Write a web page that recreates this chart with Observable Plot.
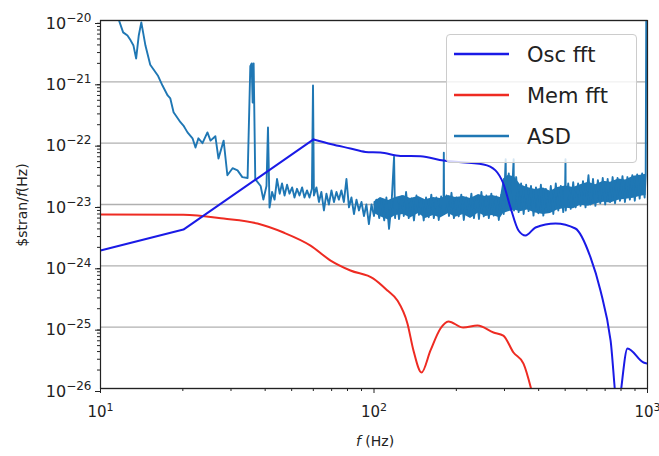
<!DOCTYPE html>
<html><head><meta charset="utf-8">
<script src="https://cdn.jsdelivr.net/npm/d3@7"></script>
<script src="https://cdn.jsdelivr.net/npm/@observablehq/plot@0.6"></script>
<style>
body{margin:0;background:#fff;}
#wrap{position:relative;width:659px;height:456px;font-family:"DejaVu Sans",sans-serif;}
#legend{position:absolute;left:446px;top:34px;width:191px;height:129px;box-sizing:border-box;background:rgba(255,255,255,0.82);border:1px solid #cccccc;border-radius:4px;}
.item{position:absolute;left:0;width:100%;height:30px;}
.item svg{position:absolute;left:6px;top:0;}
.item span{position:absolute;left:80px;top:3px;font-size:21px;line-height:26px;color:#222;}
</style></head>
<body><div id="wrap"><div id="chart"></div><div id="legend"></div></div>
<script>
// ---- axis ticks (label = "10" + exponent) ----
const decadesY = [1e-26, 1e-25, 1e-24, 1e-23, 1e-22, 1e-21, 1e-20];
const yTickExp = ["−26", "−25", "−24", "−23", "−22", "−21", "−20"];
const decadesX = [10, 100, 1000];
const xTickExp = ["1", "2", "3"];

// ---- series ----
const seriesNames = ["Osc fft", "Mem fft", "ASD"];
const seriesColors = ["#1a1ae6", "#ee2b22", "#1f77b4"];

const oscF = [10, 20.1, 60.1, 70, 82, 93.1, 105.6, 125, 147.9, 179.5, 251.4, 278, 297, 315.6, 337.6, 358, 389.5, 461, 545, 619, 673, 733, 777, 845, 967, 1000];
const oscV = [1.78e-24, 3.9e-24, 1.15e-22, 9.6e-23, 8.2e-23, 7.2e-23, 7.05e-23, 6.2e-23, 6.1e-23, 5.2e-23, 4.5e-23, 3.6e-23, 2.2e-23, 8.93e-24, 3.77e-24, 3.12e-24, 4.21e-24, 4.9e-24, 4.06e-24, 1.37e-24, 3.96e-25, 6.06e-26, 5e-27, 4.49e-26, 2.65e-26, 2.55e-26];

const memF = [10, 20.1, 28.2, 37.5, 46.7, 58.6, 69.4, 82, 99.5, 112, 121.8, 132.5, 139.4, 149.2, 160.9, 175, 187, 212, 239, 273.5, 297, 323.6, 352, 380];
const memV = [6.9e-24, 6.8e-24, 5.9e-24, 4.9e-24, 3.49e-24, 2.14e-24, 1.22e-24, 8.4e-25, 6.2e-25, 3.96e-25, 2.72e-25, 1.15e-25, 4.17e-26, 1.82e-26, 4.17e-26, 9.5e-26, 1.24e-25, 9.86e-26, 1.06e-25, 8.2e-26, 7.3e-26, 3.86e-26, 2.55e-26, 8e-27];

const asdF = [11.35, 12.1, 12.55, 12.9, 13.2, 13.5, 13.8, 14.1, 14.6, 15.2, 16.2, 16.85, 17.6, 18.0, 18.5, 19.6, 20.1, 20.8, 21.7, 22.25, 22.8, 23.6, 24.6, 25.25, 26.3, 27.0, 28.2, 29.1, 30.4, 31.7, 33.0, 34.5, 35.3, 35.7, 36.0, 36.3, 36.8, 38.5, 39.4, 40.45, 40.96,
  41.5, 42.4, 43.3, 44.2, 45.2, 46.1, 47.1, 48.1, 49.1, 50.2, 51.2, 52.3, 53.4, 54.6, 55.7, 56.9, 58.1, 59.3, 59.84, 60.3, 61.6, 62.9, 64.2, 65.6, 67.0, 68.4, 69.9, 71.4, 72.9, 74.4, 76.0, 77.6, 79.3, 81.0, 82.7, 84.5, 86.3, 88.1, 90.0, 91.9, 93.8, 95.8, 97.9, 100,
  102, 104.5, 106.5, 109, 111, 113.5, 116, 118.4, 119.4, 121, 123.5, 126, 128.5, 131, 134, 137, 140, 143, 146, 149, 152, 155, 158.5, 162, 165.5, 169, 172.5, 176, 179.5, 180, 180.5, 184, 188, 192, 196, 200, 204, 208.5, 213, 217.5, 222, 227, 232, 237, 242, 247, 252, 257.5, 263, 268.5, 274, 280, 286, 292, 298,
  303, 304.5, 311, 317.5, 324, 325, 331, 338, 345, 352.5, 360, 367.5, 375, 383, 391, 399, 407.5, 416, 425, 434, 443, 452.5, 462, 472, 482, 492, 500, 501.4, 502.5, 513, 524, 535, 546, 557.5, 569, 581, 593.5, 606, 608.4, 619, 632, 645, 658.5, 672, 686, 700.5, 715, 730, 745.5, 761, 777, 793.5, 810, 827, 844.5, 862, 880, 898.5, 917, 936, 956, 976, 985, 990];
const asdV = [1.46e-20, 6.4e-21, 5.7e-21, 4.7e-21, 3.9e-21, 2.4e-21, 5.7e-21, 9.3e-21, 3.9e-21, 1.9e-21, 1.27e-21, 8.7e-22, 6.0e-22, 5.35e-22, 3.2e-22, 2.2e-22, 1.94e-22, 1.5e-22, 1.2e-22, 8.5e-23, 1.2e-22, 1.0e-22, 1.5e-22, 1.1e-22, 1.3e-22, 5.6e-23, 1.1e-22, 3.0e-23, 3.9e-23, 3.6e-23, 2.8e-23, 2.7e-23, 1.8e-21, 2.0e-21, 4.6e-22, 2.0e-21, 2.6e-23, 2.0e-23, 1.2e-23, 2.0e-23, 1.8e-22,
  8.9e-24, 1.6e-23, 1.2e-23, 2.6e-23, 1.5e-23, 2.2e-23, 1.4e-23, 2.1e-23, 1.5e-23, 1.9e-23, 1.3e-23, 1.8e-23, 1.4e-23, 1.9e-23, 1.3e-23, 1.7e-23, 1.3e-23, 1.8e-23, 8.7e-22, 1.4e-23, 1.9e-23, 1.1e-23, 1.6e-23, 8e-24, 1.5e-23, 1.0e-23, 1.7e-23, 1.1e-23, 1.6e-23, 1.2e-23, 1.7e-23, 1.1e-23, 2.6e-23, 9e-24, 1.3e-23, 7e-24, 1.2e-23, 8e-24, 1.1e-23, 6.5e-24, 1.0e-23, 4.8e-24, 1.0e-23, 6.5e-24,
  1.2e-23, 6e-24, 1.15e-23, 5.5e-24, 1.3e-23, 4e-24, 1.1e-23, 6e-23, 6e-24, 1.2e-23, 5.8e-24, 1.35e-23, 6.5e-24, 1.6e-23, 6e-24, 1.25e-23, 5.5e-24, 1.4e-23, 6.8e-24, 1.2e-23, 5.5e-24, 1.3e-23, 6.2e-24, 1.45e-23, 6e-24, 1.3e-23, 5.6e-24, 1.35e-23, 7e-24, 7e-23, 7e-24, 1.4e-23, 6.5e-24, 1.55e-23, 6e-24, 1.3e-23, 6.4e-24, 1.45e-23, 5.6e-24, 1.3e-23, 6.8e-24, 1.5e-23, 6e-24, 1.35e-23, 5.8e-24, 1.6e-23, 6.4e-24, 1.4e-23, 6e-24, 1.5e-23, 6.6e-24, 1.35e-23, 5.6e-24, 1.45e-23, 7e-24,
  5.5e-23, 9e-24, 3.2e-23, 8e-24, 5.5e-23, 8e-24, 2.8e-23, 7.5e-24, 2.2e-23, 7e-24, 2.1e-23, 7.8e-24, 2.0e-23, 6.6e-24, 1.9e-23, 7.2e-24, 2.1e-23, 6.6e-24, 1.8e-23, 7.5e-24, 2.0e-23, 7e-24, 2.2e-23, 8e-24, 2.0e-23, 7.5e-24, 2.1e-23, 5.5e-23, 8e-24, 2.2e-23, 8.5e-24, 2.3e-23, 9e-24, 2.2e-23, 9.5e-24, 2.4e-23, 9e-24, 2.5e-23, 3.0e-23, 1.0e-23, 2.6e-23, 9.5e-24, 2.5e-23, 1.05e-23, 2.7e-23, 1.0e-23, 2.6e-23, 1.1e-23, 2.8e-23, 1.05e-23, 2.7e-23, 1.15e-23, 2.9e-23, 1.1e-23, 2.8e-23, 1.2e-23, 3.0e-23, 1.15e-23, 3.1e-23, 1.25e-23, 3.2e-23, 1.3e-23, 3.0e-23, 2e-20];

// dense-noise core of the ASD above ~100 Hz
const bandF = [100, 105.6, 113.0, 119.8, 128.2, 136.0, 145.4, 154.3, 165.1, 175.1, 187.3, 198.6, 212.4, 225.4, 241.1, 255.7, 271.3, 290.1, 297.5, 310.3, 326.4, 343.2, 364.1, 389.5, 416.6, 441.9, 468.8, 501.4, 536.3, 568.9, 608.4, 645.6, 690.5, 732.4, 783.4, 831.0, 888.9, 942.8, 988];
const bandHi = [1.1e-23, 1.3e-23, 1.16e-23, 1.3e-23, 1.4e-23, 1.25e-23, 1.35e-23, 1.2e-23, 1.3e-23, 1.25e-23, 1.4e-23, 1.3e-23, 1.35e-23, 1.25e-23, 1.45e-23, 1.35e-23, 1.4e-23, 1.3e-23, 2.6e-23, 3.0e-23, 2.8e-23, 2.1e-23, 1.9e-23, 1.75e-23, 1.85e-23, 1.65e-23, 1.9e-23, 2.0e-23, 1.9e-23, 2.1e-23, 2.3e-23, 2.1e-23, 2.4e-23, 2.3e-23, 2.6e-23, 2.5e-23, 2.9e-23, 3.0e-23, 3.1e-23];
const bandLo = [7.2e-24, 6.3e-24, 5.6e-24, 6.6e-24, 6.9e-24, 6.0e-24, 7.1e-24, 5.9e-24, 6.6e-24, 6.0e-24, 7.1e-24, 6.2e-24, 6.9e-24, 5.9e-24, 7.3e-24, 6.4e-24, 6.6e-24, 6.0e-24, 7.1e-24, 7.6e-24, 8.1e-24, 7.6e-24, 8.1e-24, 7.3e-24, 6.9e-24, 7.1e-24, 8.1e-24, 8.7e-24, 8.5e-24, 9.7e-24, 9.4e-24, 1.02e-23, 1.09e-23, 1.06e-23, 1.17e-23, 1.22e-23, 1.27e-23, 1.36e-23, 1.4e-23];

// ---- tables ----
const osc = oscF.map((f, i) => ({f, v: oscV[i]}));
const oscRise = osc.filter(d => d.f <= 60.1);   // straight segments below the peak
const oscFall = osc.filter(d => d.f >= 60.1);   // smooth roll-off above the peak
const mem = memF.map((f, i) => ({f, v: memV[i]}));
const asd = asdF.map((f, i) => ({f, v: asdV[i]}));
const band = bandF.map((f, i) => ({f, lo: bandLo[i], hi: bandHi[i]}));

const minorY = [];
for (let k = -26; k < -20; k++) for (let m = 2; m <= 9; m++) minorY.push(m * Math.pow(10, k));
const minorX = [];
for (let k = 1; k < 3; k++) for (let m = 2; m <= 9; m++) minorX.push(m * Math.pow(10, k));

const chart = Plot.plot({
  width: 659, height: 456,
  marginLeft: 100, marginRight: 12, marginTop: 20, marginBottom: 68,
  style: {fontFamily: "DejaVu Sans", fontSize: "14px", color: "#222", background: "#fff", overflow: "visible"},
  x: {type: "log", domain: [10, 1000]},
  y: {type: "log", domain: [1e-26, 1e-20]},
  marks: [
    Plot.gridY(decadesY, {stroke: "#b0b0b0", strokeOpacity: 1, strokeWidth: 1.3}),
    Plot.areaY(band, {x: "f", y1: "lo", y2: "hi", fill: seriesColors[2], clip: true}),
    Plot.line(asd, {x: "f", y: "v", stroke: seriesColors[2], strokeWidth: 1.9, clip: true}),
    Plot.line(mem, {x: "f", y: "v", stroke: seriesColors[1], strokeWidth: 2, curve: "monotone-x", clip: true}),
    Plot.line(oscRise, {x: "f", y: "v", stroke: seriesColors[0], strokeWidth: 2, clip: true}),
    Plot.line(oscFall, {x: "f", y: "v", stroke: seriesColors[0], strokeWidth: 2, curve: "monotone-x", clip: true}),
    Plot.frame({stroke: "#222", strokeWidth: 1.2}),
    Plot.axisY({ticks: decadesY, tickFormat: () => "10", tickSize: 5, tickPadding: 4, dy: 3, fontSize: 16, label: null}),
    Plot.axisY({ticks: minorY, tickSize: 3, text: null, label: null}),
    Plot.axisX({ticks: decadesX, tickFormat: () => "10", tickSize: 5, tickPadding: 13, fontSize: 15, label: null}),
    Plot.axisX({ticks: minorX, tickSize: 3, text: null, label: null})
  ]
});
document.getElementById("chart").appendChild(chart);

const svg = d3.select(chart);
// exponents as raised tspans
svg.selectAll('g[aria-label="y-axis tick label"] text').each(function(d, i) {
  const t = d3.select(this);
  const base = t.text();
  t.text(null);
  t.append("tspan").text(base);
  t.append("tspan").attr("dy", "-7").attr("font-size", 12).text(yTickExp[i]);
});
svg.selectAll('g[aria-label="x-axis tick label"] text').each(function(d, i) {
  const t = d3.select(this);
  const base = t.text();
  t.text(null);
  t.append("tspan").text(base);
  t.append("tspan").attr("dy", "-6").attr("font-size", 11).text(xTickExp[i]);
});

const xl = svg.append("text").attr("x", 375).attr("y", 446).attr("text-anchor", "middle")
  .attr("font-size", 14).attr("fill", "#222");
xl.append("tspan").attr("font-style", "italic").text("f");
xl.append("tspan").text(" (Hz)");
const yl = svg.append("text").attr("transform", "translate(27,205) rotate(-90)").attr("text-anchor", "middle")
  .attr("font-size", 14).attr("fill", "#222");
yl.append("tspan").text("$stran/");
yl.append("tspan").attr("font-style", "italic").text("f");
yl.append("tspan").text("(Hz)");

// legend
const legend = document.getElementById("legend");
const tops = [4, 45, 86];
seriesNames.forEach((name, i) => {
  const it = document.createElement("div");
  it.className = "item";
  it.style.top = tops[i] + "px";
  it.innerHTML = `<svg width="60" height="30"><line x1="1" y1="15" x2="56" y2="15" stroke="${seriesColors[i]}" stroke-width="2.6"/></svg><span>${name}</span>`;
  legend.appendChild(it);
});
</script>
</body></html>
